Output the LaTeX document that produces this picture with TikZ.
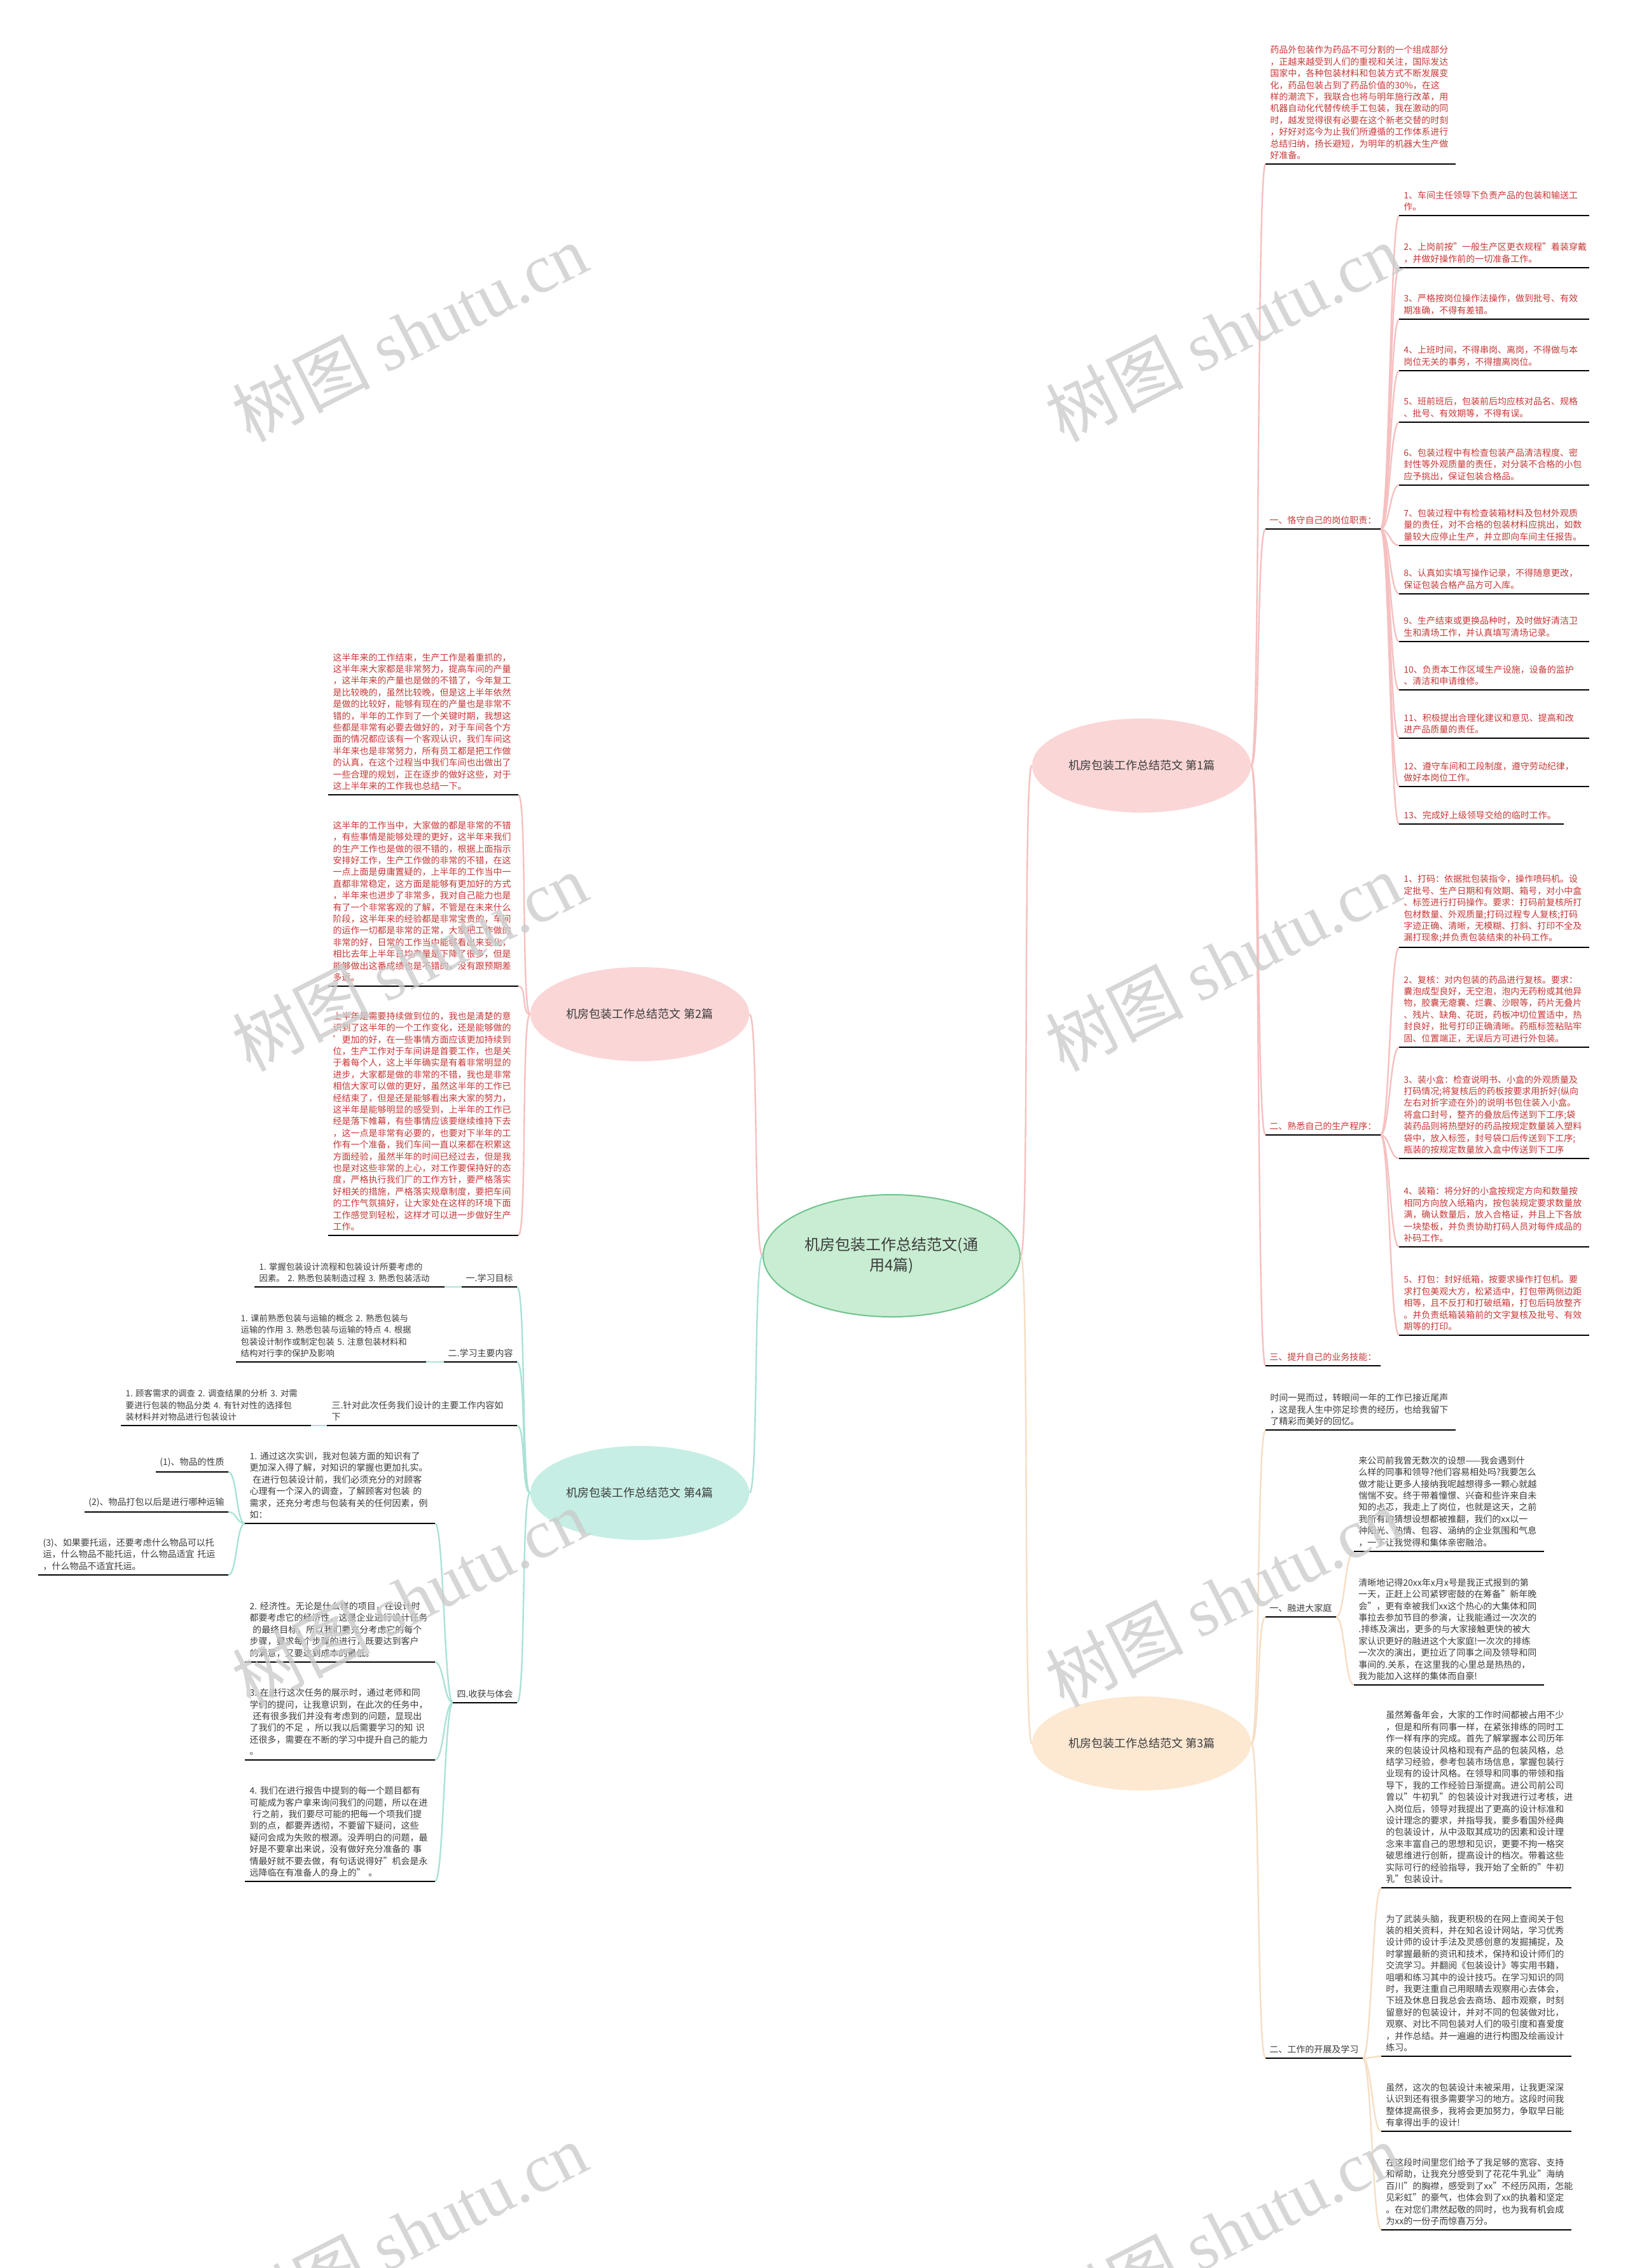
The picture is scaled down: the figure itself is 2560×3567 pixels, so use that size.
\documentclass[tikz,border=0pt]{standalone}
\usepackage{fontspec}
\setmainfont{Noto Sans CJK SC}
\newfontfamily\wmfont{Liberation Serif}
\usepackage{tikz}
\usetikzlibrary{shapes,positioning}

\definecolor{redtxt}{RGB}{200,55,55}
\definecolor{graytxt}{RGB}{60,60,60}
\definecolor{pinkfill}{RGB}{251,214,214}
\definecolor{aquafill}{RGB}{198,238,228}
\definecolor{peachfill}{RGB}{253,232,210}
\definecolor{greenfill}{RGB}{200,237,210}
\definecolor{greenline}{RGB}{110,195,140}
\definecolor{pinkline}{RGB}{246,192,192}
\definecolor{aqualine}{RGB}{170,226,215}
\definecolor{peachline}{RGB}{246,222,196}

\tikzstyle{root} = [ellipse, draw=greenline, line width=1pt, fill=greenfill, minimum width=202pt, minimum height=96pt, align=center, font=\fontsize{12}{16}\selectfont, text=graytxt]
\tikzstyle{branch} = [ellipse, minimum width=165pt, minimum height=74pt, font=\fontsize{9}{11}\selectfont, text=graytxt]
\tikzstyle{para} = [align=left, text width=142pt, inner xsep=3.5pt, inner ysep=3.5pt, font=\fontsize{7}{9.2}\selectfont]
\tikzstyle{tag} = [align=left, inner xsep=3pt, inner ysep=3.5pt, font=\fontsize{7}{9.2}\selectfont]
\tikzstyle{uline} = [draw=black, line width=1.2pt]
\tikzstyle{pinkedge} = [draw=pinkline, line width=1.2pt]
\tikzstyle{aquaedge} = [draw=aqualine, line width=1.2pt]
\tikzstyle{peachedge} = [draw=peachline, line width=1.2pt]
\tikzstyle{wmark} = [rotate=27, text=black!20, opacity=0.8, font=\fontsize{54}{54}\selectfont]

\begin{document}
\begin{tikzpicture}[x=0.5pt, y=-0.5pt]
\fill[white] (0,0) rectangle (2560,3567);
\useasboundingbox (0,0) rectangle (2560,3567);

    % nodes
\node [root] (c) at (1402,1975) {机房包装工作总结范文(通\\用4篇)};
\node [branch, fill=pinkfill] (b1) at (1795,1204) {机房包装工作总结范文 第1篇};
\node [branch, fill=pinkfill] (b2) at (1006,1595) {机房包装工作总结范文 第2篇};
\node [branch, fill=peachfill] (b3) at (1795,2742) {机房包装工作总结范文 第3篇};
\node [branch, fill=aquafill] (b4) at (1006,2348) {机房包装工作总结范文 第4篇};

% part 1
\node [para, text=redtxt, anchor=south west] (p0) at (1990,258) {药品外包装作为药品不可分割的一个组成部分\\，正越来越受到人们的重视和关注，国际发达\\国家中，各种包装材料和包装方式不断发展变\\化，药品包装占到了药品价值的30\%，在这\\样的潮流下，我联合也将与明年施行改革，用\\机器自动化代替传统手工包装，我在激动的同\\时，越发觉得很有必要在这个新老交替的时刻\\，好好对迄今为止我们所遵循的工作体系进行\\总结归纳，扬长避短，为明年的机器大生产做\\好准备。};
\node [tag, text=redtxt, anchor=south west] (l1) at (1990,832) {一、恪守自己的岗位职责：};
\node [tag, text=redtxt, anchor=south west] (l2) at (1990,1785) {二、熟悉自己的生产程序：};
\node [tag, text=redtxt, anchor=south west] (l3) at (1990,2148) {三、提升自己的业务技能：};

\node [para, text=redtxt, anchor=south west] (a1) at (2200,339) {1、车间主任领导下负责产品的包装和输送工\\作。};
\node [para, text=redtxt, anchor=south west] (a2) at (2200,421) {2、上岗前按"一般生产区更衣规程"着装穿戴\\，并做好操作前的一切准备工作。};
\node [para, text=redtxt, anchor=south west] (a3) at (2200,502) {3、严格按岗位操作法操作，做到批号、有效\\期准确，不得有差错。};
\node [para, text=redtxt, anchor=south west] (a4) at (2200,583) {4、上班时间，不得串岗、离岗，不得做与本\\岗位无关的事务，不得擅离岗位。};
\node [para, text=redtxt, anchor=south west] (a5) at (2200,664) {5、班前班后，包装前后均应核对品名、规格\\、批号、有效期等，不得有误。};
\node [para, text=redtxt, anchor=south west] (a6) at (2200,763) {6、包装过程中有检查包装产品清洁程度、密\\封性等外观质量的责任，对分装不合格的小包\\应予挑出，保证包装合格品。};
\node [para, text=redtxt, anchor=south west] (a7) at (2200,858) {7、包装过程中有检查装箱材料及包材外观质\\量的责任，对不合格的包装材料应挑出，如数\\量较大应停止生产，并立即向车间主任报告。};
\node [para, text=redtxt, anchor=south west] (a8) at (2200,934) {8、认真如实填写操作记录，不得随意更改，\\保证包装合格产品方可入库。};
\node [para, text=redtxt, anchor=south west] (a9) at (2200,1009) {9、生产结束或更换品种时，及时做好清洁卫\\生和清场工作，并认真填写清场记录。};
\node [para, text=redtxt, anchor=south west] (a10) at (2200,1085) {10、负责本工作区域生产设施，设备的监护\\、清洁和申请维修。};
\node [para, text=redtxt, anchor=south west] (a11) at (2200,1161) {11、积极提出合理化建议和意见、提高和改\\进产品质量的责任。};
\node [para, text=redtxt, anchor=south west] (a12) at (2200,1237) {12、遵守车间和工段制度，遵守劳动纪律，\\做好本岗位工作。};
\node [para, text=redtxt, text width=122pt, anchor=south west] (a13) at (2200,1296) {13、完成好上级领导交给的临时工作。};

\node [para, text=redtxt, anchor=south west] (e1) at (2200,1490) {1、打码：依据批包装指令，操作喷码机。设\\定批号、生产日期和有效期、箱号，对小中盒\\、标签进行打码操作。要求：打码前复核所打\\包材数量、外观质量;打码过程专人复核;打码\\字迹正确、清晰，无模糊、打斜、打印不全及\\漏打现象;并负责包装结束的补码工作。};
\node [para, text=redtxt, anchor=south west] (e2) at (2200,1647) {2、复核：对内包装的药品进行复核。要求：\\囊泡成型良好，无空泡，泡内无药粉或其他异\\物，胶囊无瘪囊、烂囊、沙眼等，药片无叠片\\、残片、缺角、花斑，药板冲切位置适中，热\\封良好，批号打印正确清晰。药瓶标签粘贴牢\\固、位置端正，无误后方可进行外包装。};
\node [para, text=redtxt, anchor=south west] (e3) at (2200,1822) {3、装小盒：检查说明书、小盒的外观质量及\\打码情况;将复核后的药板按要求用折好(纵向\\左右对折字迹在外)的说明书包住装入小盒。\\将盒口封号，整齐的叠放后传送到下工序;袋\\装药品则将热塑好的药品按规定数量装入塑料\\袋中，放入标签，封号袋口后传送到下工序;\\瓶装的按规定数量放入盒中传送到下工序};
\node [para, text=redtxt, anchor=south west] (e4) at (2200,1961) {4、装箱：将分好的小盒按规定方向和数量按\\相同方向放入纸箱内，按包装规定要求数量放\\满，确认数量后，放入合格证，并且上下各放\\一块垫板，并负责协助打码人员对每件成品的\\补码工作。};
\node [para, text=redtxt, anchor=south west] (e5) at (2200,2100) {5、打包：封好纸箱，按要求操作打包机。要\\求打包美观大方，松紧适中，打包带两侧边距\\相等，且不反打和打破纸箱，打包后码放整齐\\。并负责纸箱装箱前的文字复核及批号、有效\\期等的打印。};

% part 2
\node [para, text=redtxt, anchor=south east] (q1) at (815,1250) {这半年来的工作结束，生产工作是着重抓的，\\这半年来大家都是非常努力，提高车间的产量\\，这半年来的产量也是做的不错了，今年复工\\是比较晚的，虽然比较晚，但是这上半年依然\\是做的比较好，能够有现在的产量也是非常不\\错的，半年的工作到了一个关键时期，我想这\\些都是非常有必要去做好的，对于车间各个方\\面的情况都应该有一个客观认识，我们车间这\\半年来也是非常努力，所有员工都是把工作做\\的认真，在这个过程当中我们车间也出做出了\\一些合理的规划，正在逐步的做好这些，对于\\这上半年来的工作我也总结一下。};
\node [para, text=redtxt, anchor=south east] (q2) at (815,1551) {这半年的工作当中，大家做的都是非常的不错\\，有些事情是能够处理的更好，这半年来我们\\的生产工作也是做的很不错的，根据上面指示\\安排好工作，生产工作做的非常的不错，在这\\一点上面是毋庸置疑的，上半年的工作当中一\\直都非常稳定，这方面是能够有更加好的方式\\，半年来也进步了非常多，我对自己能力也是\\有了一个非常客观的了解，不管是在未来什么\\阶段，这半年来的经验都是非常宝贵的，车间\\的运作一切都是非常的正常，大家把工作做的\\非常的好，日常的工作当中能够看出来变化，\\相比去年上半年日均产量是下降了很多，但是\\能够做出这番成绩也是不错的，没有跟预期差\\多远。};
\node [para, text=redtxt, anchor=south east] (q3) at (815,1943) {上半年是需要持续做到位的，我也是清楚的意\\识到了这半年的一个工作变化，还是能够做的\\'更加的好，在一些事情方面应该更加持续到\\位，生产工作对于车间讲是首要工作，也是关\\于着每个人，这上半年确实是有着非常明显的\\进步，大家都是做的非常的不错，我也是非常\\相信大家可以做的更好，虽然这半年的工作已\\经结束了，但是还是能够看出来大家的努力，\\这半年是能够明显的感受到，上半年的工作已\\经是落下帷幕，有些事情应该要继续维持下去\\，这一点是非常有必要的，也要对下半年的工\\作有一个准备，我们车间一直以来都在积累这\\方面经验，虽然半年的时间已经过去，但是我\\也是对这些非常的上心，对工作要保持好的态\\度，严格执行我们厂的工作方针，要严格落实\\好相关的措施，严格落实规章制度，要把车间\\的工作气氛搞好，让大家处在这样的环境下面\\工作感觉到轻松，这样才可以进一步做好生产\\工作。};

% part 4
\node [tag, text=graytxt, anchor=south east] (m1) at (813,2024) {一.学习目标};
\node [tag, text=graytxt, anchor=south east] (m2) at (813,2142) {二.学习主要内容};
\node [para, text=graytxt, anchor=south east] (m3) at (813,2242) {三.针对此次任务我们设计的主要工作内容如\\下};
\node [tag, text=graytxt, anchor=south east] (m4) at (813,2678) {四.收获与体会};
\node [para, text=graytxt, font=\fontsize{6.7}{9.2}\selectfont, anchor=south east] (n1) at (699,2024) {1.~掌握包装设计流程和包装设计所要考虑的\\因素。~2.~熟悉包装制造过程~3.~熟悉包装活动};
\node [para, text=graytxt, font=\fontsize{6.7}{9.2}\selectfont, anchor=south east] (n2) at (670,2142) {1.~课前熟悉包装与运输的概念~2.~熟悉包装与\\运输的作用~3.~熟悉包装与运输的特点~4.~根据\\包装设计制作或制定包装~5.~注意包装材料和\\结构对行李的保护及影响};
\node [para, text=graytxt, font=\fontsize{6.7}{9.2}\selectfont, anchor=south east] (n3) at (489,2242) {1.~顾客需求的调查~2.~调查结果的分析~3.~对需\\要进行包装的物品分类~4.~有针对性的选择包\\装材料并对物品进行包装设计};
\node [para, text=graytxt, anchor=south east] (r1) at (684,2396) {1.~通过这次实训，我对包装方面的知识有了\\更加深入得了解，对知识的掌握也更加扎实。\\~在进行包装设计前，我们必须充分的对顾客\\心理有一个深入的调查，了解顾客对包装~的\\需求，还充分考虑与包装有关的任何因素，例\\如：};
\node [para, text=graytxt, anchor=south east] (r2) at (684,2614) {2.~经济性。无论是什么样的项目，在设计时\\都要考虑它的经济性，这是企业进行设计任务\\~的最终目标，所以我们要充分考虑它的每个\\步骤，要求每个步骤的进行，既要达到客户\\的满意，又要达到成本的最低。};
\node [para, text=graytxt, anchor=south east] (r3) at (684,2768) {3.~在进行这次任务的展示时，通过老师和同\\学们的提问，让我意识到，在此次的任务中，\\~还有很多我们并没有考虑到的问题，显现出\\了我们的不足~，所以我以后需要学习的知~识\\还很多，需要在不断的学习中提升自己的能力\\。};
\node [para, text=graytxt, anchor=south east] (r4) at (684,2959) {4.~我们在进行报告中提到的每一个题目都有\\可能成为客户拿来询问我们的问题，所以在进\\~行之前，我们要尽可能的把每一个项我们提\\到的点，都要弄透彻，不要留下疑问，这些\\疑问会成为失败的根源。没弄明白的问题，最\\好是不要拿出来说，没有做好充分准备的~事\\情最好就不要去做，有句话说得好"机会是永\\远降临在有准备人的身上的"~。};
\node [tag, text=graytxt, anchor=south east] (s1) at (359,2315) {(1)、物品的性质};
\node [tag, text=graytxt, anchor=south east] (s2) at (359,2378) {(2)、物品打包以后是进行哪种运输};
\node [para, text=graytxt, anchor=south east] (s3) at (359,2477) {(3)、如果要托运，还要考虑什么物品可以托\\运，什么物品不能托运，什么物品适宜~托运\\，什么物品不适宜托运。};

% part 3
\node [para, text=graytxt, anchor=south west] (t0) at (1990,2249) {时间一晃而过，转眼间一年的工作已接近尾声\\，这是我人生中弥足珍贵的经历，也给我留下\\了精彩而美好的回忆。};
\node [tag, text=graytxt, anchor=south west] (u1) at (1990,2543) {一、融进大家庭};
\node [tag, text=graytxt, anchor=south west] (u2) at (1990,3237) {二、工作的开展及学习};
\node [para, text=graytxt, anchor=south west] (v1) at (2129,2440) {来公司前我曾无数次的设想——我会遇到什\\么样的同事和领导?他们容易相处吗?我要怎么\\做才能让更多人接纳我呢越想得多一颗心就越\\惴惴不安。终于带着憧憬、兴奋和些许来自未\\知的忐忑，我走上了岗位，也就是这天，之前\\我所有的猜想设想都被推翻，我们的xx以一\\种阳光、热情、包容、涵纳的企业氛围和气息\\，一下让我觉得和集体亲密融洽。};
\node [para, text=graytxt, anchor=south west] (v2) at (2129,2650) {清晰地记得20xx年x月x号是我正式报到的第\\一天，正赶上公司紧锣密鼓的在筹备"新年晚\\会"，更有幸被我们xx这个热心的大集体和同\\事拉去参加节目的参演，让我能通过一次次的\\.排练及演出，更多的与大家接触更快的被大\\家认识更好的融进这个大家庭!一次次的排练\\一次次的演出，更拉近了同事之间及领导和同\\事间的.关系，在这里我的心里总是热热的，\\我为能加入这样的集体而自豪!};
\node [para, text=graytxt, anchor=south west] (w1) at (2172,2969) {虽然筹备年会，大家的工作时间都被占用不少\\，但是和所有同事一样，在紧张排练的同时工\\作一样有序的完成。首先了解掌握本公司历年\\来的包装设计风格和现有产品的包装风格，总\\结学习经验，参考包装市场信息，掌握包装行\\业现有的设计风格。在领导和同事的带领和指\\导下，我的工作经验日渐提高。进公司前公司\\曾以"牛初乳"的包装设计对我进行过考核，进\\入岗位后，领导对我提出了更高的设计标准和\\设计理念的要求，并指导我，要多看国外经典\\的包装设计，从中汲取其成功的因素和设计理\\念来丰富自己的思想和见识，更要不拘一格突\\破思维进行创新，提高设计的档次。带着这些\\实际可行的经验指导，我开始了全新的"牛初\\乳"包装设计。};
\node [para, text=graytxt, anchor=south west] (w2) at (2172,3234) {为了武装头脑，我更积极的在网上查阅关于包\\装的相关资料，并在知名设计网站，学习优秀\\设计师的设计手法及灵感创意的发掘捕捉，及\\时掌握最新的资讯和技术，保持和设计师们的\\交流学习。并翻阅《包装设计》等实用书籍，\\咀嚼和练习其中的设计技巧。在学习知识的同\\时，我更注重自己用眼睛去观察用心去体会，\\下班及休息日我总会去商场、超市观察，时刻\\留意好的包装设计，并对不同的包装做对比，\\观察、对比不同包装对人们的吸引度和喜爱度\\，并作总结。并一遍遍的进行构图及绘画设计\\练习。};
\node [para, text=graytxt, anchor=south west] (w3) at (2172,3352) {虽然，这次的包装设计未被采用，让我更深深\\认识到还有很多需要学习的地方。这段时间我\\整体提高很多，我将会更加努力，争取早日能\\有拿得出手的设计!};
\node [para, text=graytxt, anchor=south west] (w4) at (2172,3507) {在这段时间里您们给予了我足够的宽容、支持\\和帮助，让我充分感受到了花花牛乳业"海纳\\百川"的胸襟，感受到了xx"不经历风雨，怎能\\见彩虹"的豪气，也体会到了xx的执着和坚定\\。在对您们肃然起敬的同时，也为我有机会成\\为xx的一份子而惊喜万分。};

%edges
\path [pinkedge] (c.east) .. controls +(14,0) and +(-14,0) .. (b1.west);
\path [pinkedge] (c.west) .. controls +(-14,0) and +(14,0) .. (b2.east);
\path [peachedge] (c.east) .. controls +(14,0) and +(-14,0) .. (b3.west);
\path [aquaedge] (c.west) .. controls +(-14,0) and +(14,0) .. (b4.east);

\foreach \n in {p0,l1,l2,l3}
  \path [pinkedge] (b1.east) .. controls +(14,0) and +(-14,0) .. (\n.south west);
\foreach \n in {a1,a2,a3,a4,a5,a6,a7,a8,a9,a10,a11,a12,a13}
  \path [pinkedge] (l1.south east) .. controls +(14,0) and +(-14,0) .. (\n.south west);
\foreach \n in {e1,e2,e3,e4,e5}
  \path [pinkedge] (l2.south east) .. controls +(14,0) and +(-14,0) .. (\n.south west);
\foreach \n in {q1,q2,q3}
  \path [pinkedge] (b2.west) .. controls +(-14,0) and +(14,0) .. (\n.south east);

\foreach \n in {m1,m2,m3,m4}
  \path [aquaedge] (b4.west) .. controls +(-14,0) and +(14,0) .. (\n.south east);
\path [aquaedge] (m1.south west) -- (n1.south east);
\path [aquaedge] (m2.south west) -- (n2.south east);
\path [aquaedge] (m3.south west) -- (n3.south east);
\foreach \n in {r1,r2,r3,r4}
  \path [aquaedge] (m4.south west) .. controls +(-14,0) and +(14,0) .. (\n.south east);
\foreach \n in {s1,s2,s3}
  \path [aquaedge] (r1.south west) .. controls +(-14,0) and +(14,0) .. (\n.south east);

\foreach \n in {t0,u1,u2}
  \path [peachedge] (b3.east) .. controls +(14,0) and +(-14,0) .. (\n.south west);
\foreach \n in {v1,v2}
  \path [peachedge] (u1.south east) .. controls +(14,0) and +(-14,0) .. (\n.south west);
\foreach \n in {w1,w2,w3,w4}
  \path [peachedge] (u2.south east) .. controls +(14,0) and +(-14,0) .. (\n.south west);

% underlines
\foreach \n in {p0,l1,l2,l3,a1,a2,a3,a4,a5,a6,a7,a8,a9,a10,a11,a12,a13,e1,e2,e3,e4,e5,q1,q2,q3,m1,m2,m3,m4,n1,n2,n3,r1,r2,r3,r4,s1,s2,s3,t0,u1,u2,v1,v2,w1,w2,w3,w4}
  \draw [uline] (\n.south west) -- (\n.south east);

% watermark
\foreach \wx/\wy [count=\i] in {644/523,1923/523,644/1513,1923/1513,644/2513,1923/2513,644/3510,1923/3510}
  \node [wmark] (wm\i) at (\wx,\wy) {树图 {\wmfont shutu.cn}};
\end{tikzpicture}
\end{document}
